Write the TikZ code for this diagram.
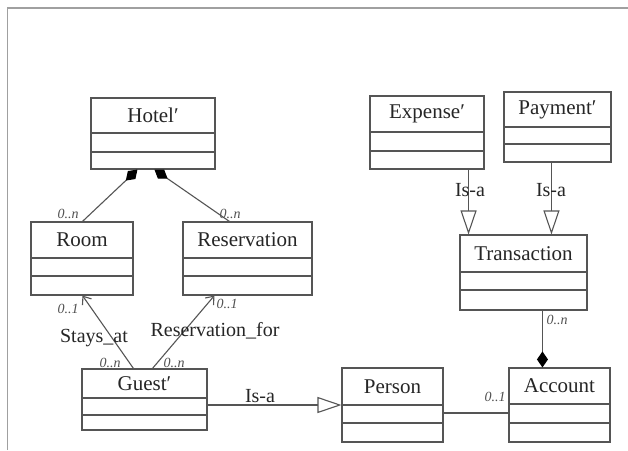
\documentclass[tikz,border=0pt]{standalone}
\usepackage{fontspec}
\setmainfont{Liberation Serif}
\usetikzlibrary{arrows.meta}
\definecolor{lincol}{HTML}{555555}
\definecolor{txtcol}{HTML}{262626}
\definecolor{framecol}{HTML}{A0A0A0}
\definecolor{multcol}{HTML}{505050}
\tikzset{
  cls/.style={draw=lincol, line width=1.1pt, inner sep=0pt, fill=white},
  divline/.style={draw=lincol, line width=1.1pt},
  title/.style={text=txtcol, font=\fontsize{21}{24}\selectfont, inner sep=0pt},
  conn/.style={draw=lincol, line width=1.1pt},
  lbl/.style={text=txtcol, font=\fontsize{20}{24}\selectfont, inner sep=0pt},
  mult/.style={text=multcol, font=\fontsize{14}{16}\selectfont\itshape, inner sep=0pt},
  compo/.style={-{Diamond[length=16pt,width=11pt, fill=black, color=black]}},
  gener/.style={-{Triangle[open, length=24pt, width=16pt, fill=white]}},
  navig/.style={-{Straight Barb[length=7pt, width=11pt, line width=1.1pt]}},
}
\newcommand\umlclass[8]{%
  \pgfmathsetmacro\clsw{#4-#2}\pgfmathsetmacro\clsh{#5-#3}%
  \node[cls, minimum width=\clsw pt, minimum height=\clsh pt] (#1) at ({(#2+#4)/2},{(#3+#5)/2}) {};
  \draw[divline] (#2,#6) -- (#4,#6) (#2,#7) -- (#4,#7);
  \node[title] (#1-t) at ({(#2+#4)/2},{(#3+#6)/2}) {#8};
}
\begin{document}
\begin{tikzpicture}[x=1pt, y=-1pt]
\useasboundingbox (0,0) rectangle (628,450);
\fill[white] (0,0) rectangle (628,450);
\draw[framecol, line width=1.5pt] (7.5,450) -- (7.5,8) -- (628,8);

\umlclass{hotel}{91}{98}{215}{169}{133}{152}{Hotel′}
\umlclass{room}{31}{222}{133}{295}{258}{276}{Room}
\umlclass{res}{183}{222}{312}{295}{258}{276}{Reservation}
\umlclass{expense}{370}{96}{484}{169}{132}{151}{Expense′}
\umlclass{payment}{504}{92}{611}{162}{127}{144}{Payment′}
\umlclass{trans}{460}{235}{587}{310}{272}{290}{Transaction}
\umlclass{guest}{82}{369}{207}{430}{398}{415}{Guest′}
\umlclass{person}{342}{368}{443}{442}{405}{423}{Person}
\umlclass{account}{509}{368}{610}{442}{404}{423}{Account}

% composition Hotel
\draw[conn, compo] ([xshift=52pt]room.north west) -- ([xshift=47pt]hotel.south west);
\draw[conn, compo] ([xshift=47pt]res.north west) -- ([xshift=64pt]hotel.south west);
\node[mult] (m1) at (68,214) {0..n};
\node[mult] (m2) at (230,214) {0..n};

% navigable associations from Guest
\draw[conn, navig] ([xshift=52pt]guest.north west) -- ([xshift=52pt]room.south west);
\draw[conn, navig] ([xshift=71pt]guest.north west) -- ([xshift=32pt]res.south west);
\node[mult] (m3) at (68,309) {0..1};
\node[mult] (m4) at (227,304) {0..1};
\node[mult] (m5) at (110,363) {0..n};
\node[mult] (m6) at (174,363) {0..n};
\node[lbl, anchor=base] (l1) at (94,342) {Stays\_at};
\node[lbl, anchor=base] (l2) at (215,336) {Reservation\_for};

% generalisation Guest -> Person
\draw[conn, gener] (guest.east |- person.west) -- (person.west);
\node[lbl] (l3) at (260,396) {Is-a};

% Person -- Account
\draw[conn] ([yshift=-8pt]person.east) -- ([yshift=-8pt]person.east -| account.west);
\node[mult] (m7) at (495,397) {0..1};

% generalisations into Transaction
\coordinate (e1) at ([xshift=-16pt]expense.south east);
\coordinate (p1) at ([xshift=48pt]payment.south west);
\draw[conn, gener] (e1) -- (e1 |- trans.north);
\draw[conn, gener] (p1) -- (p1 |- trans.north);
\node[lbl] (l4) at (470,190) {Is-a};
\node[lbl] (l5) at (551,190) {Is-a};

% Transaction -- Account composition
\coordinate (t1) at ([xshift=83pt]trans.south west);
\draw[conn, compo] (t1) -- (t1 |- account.north);
\node[mult] (m8) at (557,320) {0..n};
\end{tikzpicture}
\end{document}
